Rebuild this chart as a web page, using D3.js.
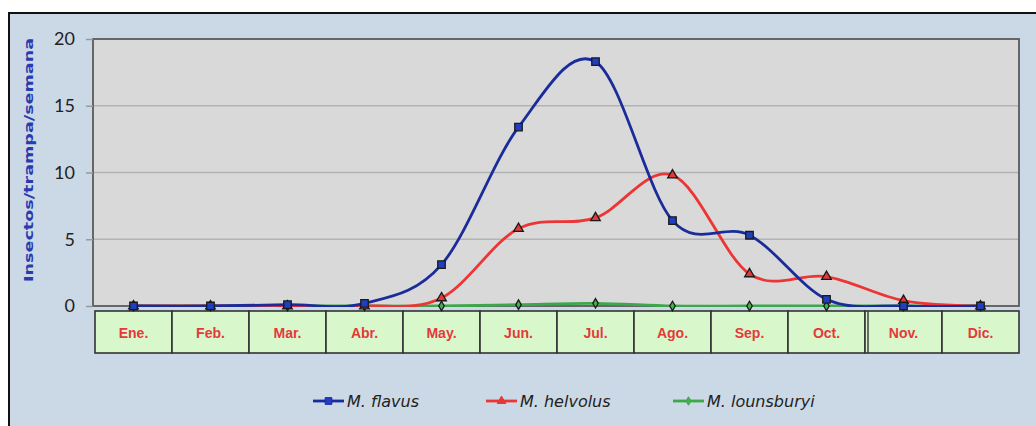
<!DOCTYPE html>
<html><head><meta charset="utf-8">
<script src="https://cdn.jsdelivr.net/npm/d3@7/dist/d3.min.js"></script>
<style>
html,body{margin:0;padding:0;background:#fff;}
svg{display:block;}
</style></head>
<body>
<svg id="chart" width="1036" height="426"></svg>
<script>
const months = ["Ene.","Feb.","Mar.","Abr.","May.","Jun.","Jul.","Ago.","Sep.","Oct.","Nov.","Dic."];
const flavus = [0, 0, 0.1, 0.2, 3.1, 13.4, 18.3, 6.4, 5.3, 0.5, 0, 0];
const helvolus = [0, 0, 0, 0, 0.6, 5.8, 6.6, 9.8, 2.4, 2.2, 0.4, 0];
const lounsburyi = [0, 0, 0, 0, 0, 0.1, 0.2, 0, 0, 0, 0, 0];
const yTicks = [0, 5, 10, 15, 20];
const seriesNames = ["M. flavus", "M. helvolus", "M. lounsburyi"];
const yTitle = "Insectos/trampa/semana";

const svg = d3.select("#chart");
const W = 1036, H = 426;

// background + border
svg.append("rect").attr("x",0).attr("y",0).attr("width",W).attr("height",H).attr("fill","#ffffff");
svg.append("rect").attr("x",9).attr("y",13).attr("width",W+20).attr("height",H+20)
  .attr("fill","#cbd9e6").attr("stroke","#111").attr("stroke-width",2);

const plot = {l:93, r:1019, t:39, b:306};
const x = d3.scaleBand().domain(months).range([95, 1019]).paddingInner(0).paddingOuter(0);
const y = d3.scaleLinear().domain([0,20]).range([plot.b, plot.t]);
const cx = m => x(m) + x.bandwidth()/2;

// plot area
svg.append("rect").attr("x",plot.l).attr("y",plot.t).attr("width",plot.r-plot.l).attr("height",plot.b-plot.t)
  .attr("fill","#d9d9d9");
// gridlines
svg.append("g").selectAll("line").data(yTicks.filter(d=>d>0 && d<20)).join("line")
  .attr("x1",plot.l).attr("x2",plot.r).attr("y1",d=>y(d)).attr("y2",d=>y(d))
  .attr("stroke","#b3b3b3").attr("stroke-width",1.5);
svg.append("rect").attr("x",plot.l).attr("y",plot.t).attr("width",plot.r-plot.l).attr("height",plot.b-plot.t)
  .attr("fill","none").attr("stroke","#5a5a5a").attr("stroke-width",1.8);

// y axis
const yAxis = d3.axisLeft(y).tickValues(yTicks).tickSize(7).tickPadding(11).tickFormat(d3.format("d"));
const ga = svg.append("g").attr("transform",`translate(${plot.l},0)`).call(yAxis);
ga.select(".domain").remove();
ga.selectAll(".tick line").attr("stroke","#999").attr("stroke-width",1.5);
ga.selectAll(".tick text").attr("font-family","Lato, 'Open Sans', sans-serif").attr("font-size",18).attr("fill","#222");

// y title
svg.append("text").attr("transform","translate(33,160) rotate(-90)")
  .attr("text-anchor","middle").attr("font-family","'DejaVu Sans', sans-serif").attr("font-weight","bold")
  .attr("font-size",13).attr("fill","#2a3ab0").attr("textLength",244).attr("lengthAdjust","spacingAndGlyphs")
  .text(yTitle);

// month table
const tg = svg.append("g");
tg.selectAll("rect").data(months).join("rect")
  .attr("x",d=>x(d)).attr("y",311).attr("width",x.bandwidth()).attr("height",42)
  .attr("fill","#d8f8cc").attr("stroke","#333").attr("stroke-width",1.6);
tg.append("line").attr("x1",x("Nov.")+3).attr("x2",x("Nov.")+3).attr("y1",311).attr("y2",353)
  .attr("stroke","#333").attr("stroke-width",1.4);
tg.selectAll("text").data(months).join("text")
  .attr("x",d=>cx(d)).attr("y",338).attr("text-anchor","middle")
  .attr("font-family","'Liberation Sans', Arial, sans-serif").attr("font-weight","bold")
  .attr("font-size",14).attr("fill","#e5383b").text(d=>d);

// lines
svg.append("clipPath").attr("id","clip").append("rect")
  .attr("x",plot.l).attr("y",plot.t).attr("width",plot.r-plot.l).attr("height",plot.b-plot.t+1);
const line = d3.line().x((d,i)=>cx(months[i])).y(d=>y(d)).curve(d3.curveCardinal.tension(0));

const series = [
  {name:seriesNames[0], data:flavus, color:"#1a2c9a", fill:"#1f3fc0", shape:"square"},
  {name:seriesNames[1], data:helvolus, color:"#ee3535", fill:"#e23a3a", shape:"triangle"},
  {name:seriesNames[2], data:lounsburyi, color:"#3da84a", fill:"#46b04f", shape:"diamond"}
];
const sym = {square:d3.symbolSquare, triangle:d3.symbolTriangle, diamond:d3.symbolDiamond};
const symSize = {square:56, triangle:40, diamond:26};

// draw order: green first (bottom), red, blue
const order = [2,1,0];
order.forEach(k=>{
  const s = series[k];
  svg.append("path").attr("clip-path","url(#clip)").attr("d",line(s.data))
    .attr("fill","none").attr("stroke",s.color).attr("stroke-width",2.8);
});
// markers drawn: green, red, blue
order.forEach(k=>{
  const s = series[k];
  svg.append("g").selectAll("path").data(s.data).join("path")
    .attr("transform",(d,i)=>`translate(${cx(months[i])},${y(d)})`)
    .attr("d",d3.symbol().type(sym[s.shape]).size(symSize[s.shape]))
    .attr("fill",s.fill).attr("stroke","#1a1a1a").attr("stroke-width",1.3);
});

// legend
const legX = [313, 486, 673];
const legY = 401;
series.forEach((s,i)=>{
  const g = svg.append("g").attr("transform",`translate(${legX[i]},${legY})`);
  g.append("line").attr("x1",0).attr("x2",31).attr("y1",0).attr("y2",0).attr("stroke",s.color).attr("stroke-width",2.8);
  g.append("path").attr("transform","translate(15.5,0)")
    .attr("d",d3.symbol().type(sym[s.shape]).size(symSize[s.shape]*0.8))
    .attr("fill",s.fill).attr("stroke",s.shape==="diamond"?"#3da84a":s.color).attr("stroke-width",1);
  g.append("text").attr("x",34).attr("y",6).attr("font-family","'DejaVu Sans', sans-serif")
    .attr("font-style","italic").attr("font-size",16).attr("fill","#222").text(s.name);
});
</script>
</body></html>
